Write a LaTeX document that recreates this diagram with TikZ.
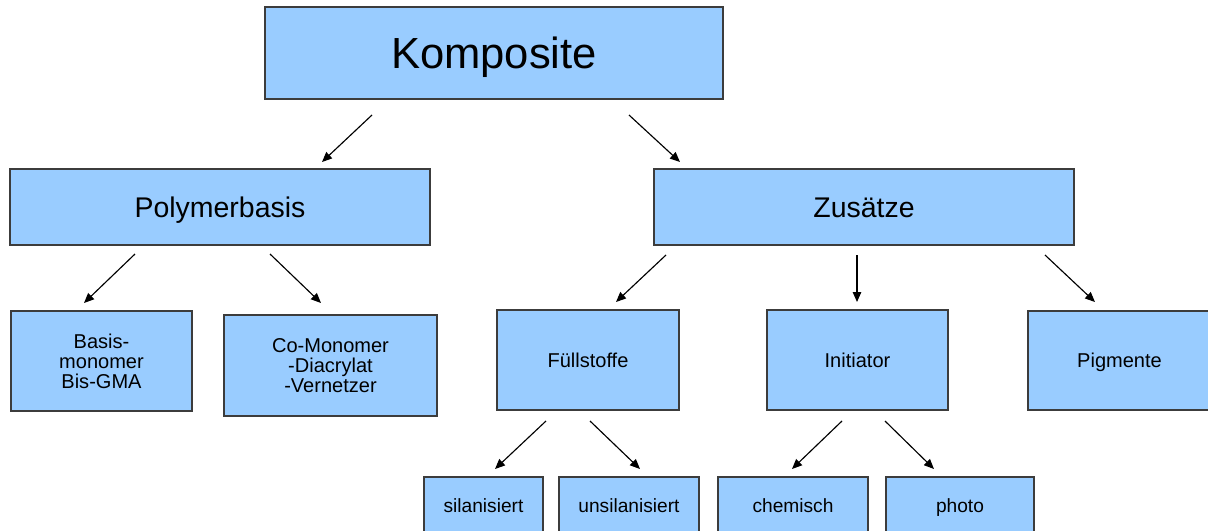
\documentclass[tikz,border=0pt]{standalone}
\usepackage{fontspec}
\setmainfont{Liberation Sans}
\usetikzlibrary{arrows.meta}
\definecolor{boxfill}{HTML}{99CCFF}
\definecolor{boxborder}{HTML}{3C3C3C}
\tikzset{
  box/.style={draw=boxborder, fill=boxfill, line width=0.8pt, inner sep=0pt, align=center},
  bigtxt/.style={font=\fontsize{24.8}{29}\selectfont, text height=17.8pt, text depth=0pt},
  midtxt/.style={font=\fontsize{16.2}{19}\selectfont, text height=11.6pt, text depth=0pt},
  smalltxt/.style={font=\fontsize{11.4}{11.4}\selectfont},
  oneline/.style={text height=8.16pt, text depth=0pt},
  tinytxt/.style={font=\fontsize{10.9}{12}\selectfont, text height=7.8pt, text depth=0pt},
  arr/.style={-{Triangle[length=0.2cm,width=0.17cm]}, line width=0.65pt, black}
}
\begin{document}
\begin{tikzpicture}[x=0.02cm, y=-0.02cm]
\useasboundingbox (0,0) rectangle (1208,531);
\fill[white] (0,0) rectangle (1208,531);
% boxes
\node[box, bigtxt, minimum width=9.16cm, minimum height=1.84cm] (komp) at (494,53) {Komposite};
\node[box, midtxt, minimum width=8.4cm, minimum height=1.52cm] (poly) at (220,207) {Polymerbasis};
\node[box, midtxt, minimum width=8.4cm, minimum height=1.52cm] (zus) at (864,207) {Zusätze};
\node[box, smalltxt, minimum width=3.62cm, minimum height=2.0cm] (basis) at (101.5,361) {Basis-\\monomer\\Bis-GMA};
\node[box, smalltxt, minimum width=4.26cm, minimum height=2.02cm] (comon) at (330.5,365.5) {Co-Monomer\\-Diacrylat\\-Vernetzer};
\node[box, smalltxt, oneline, minimum width=3.64cm, minimum height=2.0cm] (fuell) at (588,360) {Füllstoffe};
\node[box, smalltxt, oneline, minimum width=3.62cm, minimum height=2.0cm] (init) at (857.5,360) {Initiator};
\node[box, smalltxt, oneline, minimum width=3.66cm, minimum height=1.98cm] (pig) at (1119.5,360.5) {Pigmente};
\node[box, tinytxt, minimum width=2.38cm, minimum height=1.16cm] (sil) at (483.5,506) {silanisiert};
\node[box, tinytxt, minimum width=2.8cm, minimum height=1.16cm] (unsil) at (629,506) {unsilanisiert};
\node[box, tinytxt, minimum width=3.0cm, minimum height=1.16cm] (chem) at (793,506) {chemisch};
\node[box, tinytxt, minimum width=2.96cm, minimum height=1.16cm] (photo) at (960,506) {photo};
% arrow end points
\coordinate (k1) at (372,115); \coordinate (p1) at (322,162);
\coordinate (k2) at (629,115); \coordinate (z1) at (680,162);
\coordinate (pa) at (135,254); \coordinate (ba) at (84,303);
\coordinate (pb) at (270,254); \coordinate (ca) at (321,303);
\coordinate (za) at (666,255); \coordinate (fa) at (616,302);
\coordinate (zb) at (857,255); \coordinate (ia) at (857,302);
\coordinate (zc) at (1045,255); \coordinate (ga) at (1095,302);
\coordinate (fb) at (546,421); \coordinate (sa) at (495,469);
\coordinate (fc) at (590,421); \coordinate (ua) at (640,469);
\coordinate (ib) at (842,421); \coordinate (cha) at (792,469);
\coordinate (ic) at (885,421); \coordinate (pha) at (934,469);
% arrows
\draw[arr] (k1) -- (p1);
\draw[arr] (k2) -- (z1);
\draw[arr] (pa) -- (ba);
\draw[arr] (pb) -- (ca);
\draw[arr] (za) -- (fa);
\draw[arr] (zb) -- (ia);
\draw[arr] (zc) -- (ga);
\draw[arr] (fb) -- (sa);
\draw[arr] (fc) -- (ua);
\draw[arr] (ib) -- (cha);
\draw[arr] (ic) -- (pha);
\end{tikzpicture}
\end{document}
